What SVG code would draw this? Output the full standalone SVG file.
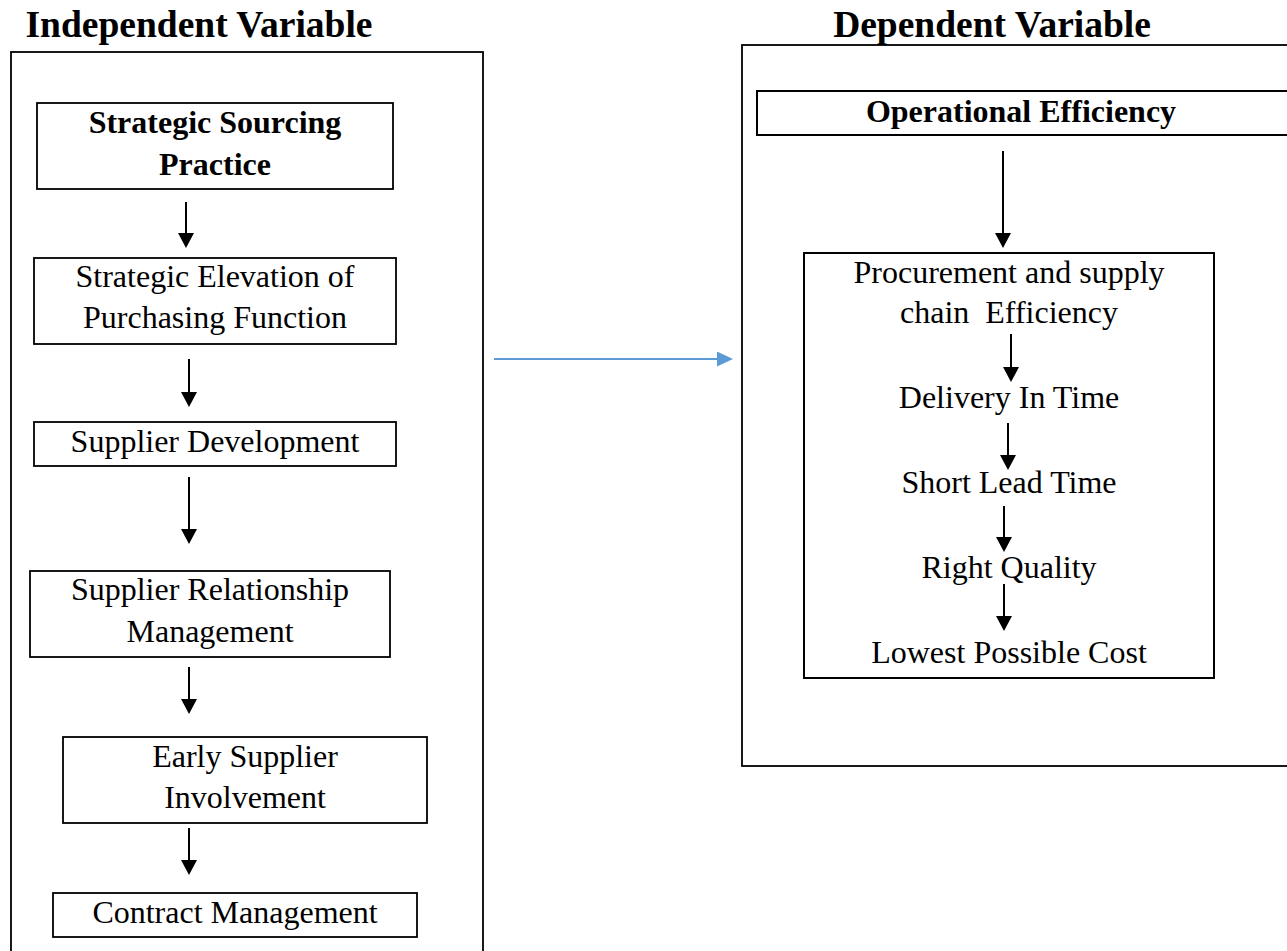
<svg xmlns="http://www.w3.org/2000/svg" width="1287" height="951" viewBox="0 0 1287 951">
<style>
text{font-family:"Liberation Serif","Times New Roman",serif;fill:#000;text-anchor:middle;white-space:pre}
.title{font-size:37.5px;font-weight:bold}
.b{font-size:32px;font-weight:bold}
.r{font-size:32px}
.box{fill:none;stroke:#000;stroke-width:1.8}
.outer{fill:none;stroke:#000;stroke-width:1.8}
.arr{stroke:#000;stroke-width:2;fill:none;marker-end:url(#ah)}
.blue{stroke:#5B9BD5;stroke-width:2.2;fill:none;marker-end:url(#bh)}
</style>
<defs>
<marker id="ah" markerUnits="userSpaceOnUse" markerWidth="16" markerHeight="16" refX="12" refY="8" orient="auto">
<path d="M0,0 L15,8 L0,16 z" fill="#000"/>
</marker>
<marker id="bh" markerUnits="userSpaceOnUse" markerWidth="16" markerHeight="15" refX="13" refY="7.5" orient="auto">
<path d="M0,0 L16,7.5 L0,15 z" fill="#5B9BD5"/>
</marker>
</defs>
<rect width="1287" height="951" fill="#fff"/>

<g id="independent-variable">
<text class="title" x="199" y="37">Independent Variable</text>
<rect class="outer" x="11" y="52" width="472" height="920"/>
</g>
<g id="dependent-variable">
<text class="title" x="992" y="37">Dependent Variable</text>
<rect class="outer" x="742" y="45" width="560" height="721"/>
</g>

<g id="strategic-sourcing">
<rect class="box" x="37" y="103" width="356" height="86"/>
<text class="b" x="215" y="133">Strategic Sourcing</text>
<text class="b" x="215" y="175">Practice</text>
</g>
<g id="strategic-elevation">
<rect class="box" x="34" y="258" width="362" height="86"/>
<text class="r" x="215" y="287">Strategic Elevation of</text>
<text class="r" x="215" y="328">Purchasing Function</text>
</g>
<g id="supplier-development">
<rect class="box" x="34" y="422" width="362" height="44"/>
<text class="r" x="215" y="452">Supplier Development</text>
</g>
<g id="supplier-relationship">
<rect class="box" x="30" y="571" width="360" height="86"/>
<text class="r" x="210" y="600">Supplier Relationship</text>
<text class="r" x="210" y="642">Management</text>
</g>
<g id="early-supplier">
<rect class="box" x="63" y="737" width="364" height="86"/>
<text class="r" x="245" y="767">Early Supplier</text>
<text class="r" x="245" y="808">Involvement</text>
</g>
<g id="contract-management">
<rect class="box" x="53" y="893" width="364" height="44"/>
<text class="r" x="235" y="923">Contract Management</text>
</g>

<g id="operational-efficiency">
<rect class="box" x="757" y="91" width="540" height="44" style="stroke-width:2"/>
<text class="b" x="1021" y="122">Operational Efficiency</text>
</g>
<g id="procurement-efficiency">
<rect class="box" x="804" y="253" width="410" height="425" style="stroke-width:2"/>
<text class="r" x="1009" y="283">Procurement and supply</text>
<text class="r" x="1009" y="323">chain  Efficiency</text>
<text class="r" x="1009" y="408">Delivery In Time</text>
<text class="r" x="1009" y="493">Short Lead Time</text>
<text class="r" x="1009" y="578">Right Quality</text>
<text class="r" x="1009" y="663">Lowest Possible Cost</text>
</g>

<g id="connectors">
<line class="arr" x1="186" y1="202" x2="186" y2="245"/>
<line class="arr" x1="189" y1="359" x2="189" y2="404"/>
<line class="arr" x1="189" y1="477" x2="189" y2="541"/>
<line class="arr" x1="189" y1="667" x2="189" y2="711"/>
<line class="arr" x1="189" y1="828" x2="189" y2="872"/>
<line class="arr" x1="1003" y1="151" x2="1003" y2="245"/>
<line class="arr" x1="1011" y1="334" x2="1011" y2="379"/>
<line class="arr" x1="1008" y1="423" x2="1008" y2="467"/>
<line class="arr" x1="1004" y1="506" x2="1004" y2="549"/>
<line class="arr" x1="1004" y1="584" x2="1004" y2="628"/>
<line class="blue" x1="494" y1="359" x2="730" y2="359"/>
</g>
</svg>
